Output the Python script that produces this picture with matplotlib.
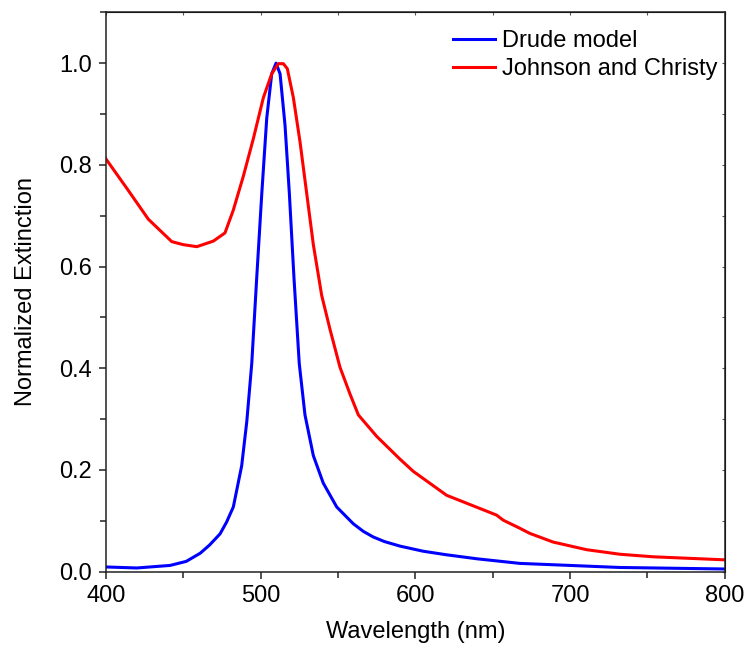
import numpy as np
import matplotlib
matplotlib.use("Agg")
import matplotlib.pyplot as plt
from matplotlib.ticker import MultipleLocator, FormatStrFormatter

plt.rcParams['font.family'] = ['Liberation Sans', 'DejaVu Sans']

# Drude model
drude_wl = [400, 420, 441.5, 452, 461, 467, 473.8, 478, 482.4, 487.8, 491.1, 494.3,
            497.5, 500.8, 504, 507.2, 510, 512.6, 515.8, 518.6, 521.6, 525, 528.7,
            534.1, 540.5, 549.2, 559.9, 566.4, 572.8, 580, 590.1, 605, 620, 640,
            667.6, 700, 732, 800]
drude_ext = [0.009, 0.007, 0.012, 0.02, 0.036, 0.052, 0.074, 0.097, 0.127, 0.208,
             0.295, 0.409, 0.577, 0.744, 0.892, 0.979, 1.0, 0.979, 0.878, 0.744,
             0.577, 0.409, 0.308, 0.228, 0.174, 0.127, 0.094, 0.079, 0.068, 0.059,
             0.050, 0.040, 0.033, 0.025, 0.016, 0.012, 0.008, 0.005]

# Johnson and Christy
jc_wl = [400, 414, 427.5, 442.6, 450, 458.8, 469.5, 477, 482.4, 488.9, 495.3, 501.8,
         507.2, 511.5, 514.7, 517.3, 521.2, 525.5, 529.8, 534.1, 539.5, 544.9, 551.3,
         557.8, 563.2, 575, 590.1, 598.7, 620.2, 652.5, 656.8, 667.6, 674, 689,
         710.6, 732.2, 753.7, 800]
jc_ext = [0.812, 0.752, 0.693, 0.649, 0.643, 0.639, 0.650, 0.666, 0.711, 0.778,
          0.851, 0.932, 0.979, 0.999, 0.999, 0.989, 0.932, 0.845, 0.744, 0.643,
          0.543, 0.476, 0.402, 0.349, 0.308, 0.266, 0.221, 0.197, 0.150, 0.111,
          0.101, 0.085, 0.075, 0.058, 0.043, 0.034, 0.029, 0.023]

fig = plt.figure(figsize=(7.45, 6.48), dpi=100)
ax = fig.add_axes([0.142, 0.118, 0.831, 0.863])

ax.plot(drude_wl, drude_ext, color='#0000ff', lw=2.2, label='Drude model')
ax.plot(jc_wl, jc_ext, color='#ff0000', lw=2.2, label='Johnson and Christy')

ax.set_xlim(400, 800)
ax.set_ylim(0, 1.1)
ax.xaxis.set_major_locator(MultipleLocator(100))
ax.xaxis.set_minor_locator(MultipleLocator(50))
ax.yaxis.set_major_locator(MultipleLocator(0.2))
ax.yaxis.set_minor_locator(MultipleLocator(0.1))
ax.yaxis.set_major_formatter(FormatStrFormatter('%.1f'))

ax.tick_params(which='both', direction='out', labelsize=17, width=1.1,
               color='#222222', labelcolor='black')
ax.tick_params(which='major', length=5, pad=5)
ax.tick_params(which='minor', length=4)
for s in ax.spines.values():
    s.set_linewidth(1.1)
    s.set_color('#222222')

# tiny inward ticks on the opposite axes
tx = ax.secondary_xaxis('top')
tx.xaxis.set_major_locator(MultipleLocator(50))
tx.tick_params(direction='in', length=2, width=0.8, color='#555555', labeltop=False)
ty = ax.secondary_yaxis('right')
ty.yaxis.set_major_locator(MultipleLocator(0.1))
ty.tick_params(direction='in', length=2, width=0.8, color='#555555', labelright=False)

ax.set_xlabel('Wavelength (nm)', fontsize=17, labelpad=10)
ax.set_ylabel('Normalized Extinction', fontsize=17, labelpad=16)

ax.legend(loc='upper left', bbox_to_anchor=(0.527, 1.006), frameon=False, fontsize=17,
          handlelength=1.75, handletextpad=0.3, labelspacing=0.25)

fig.savefig('out.png', dpi=100)
